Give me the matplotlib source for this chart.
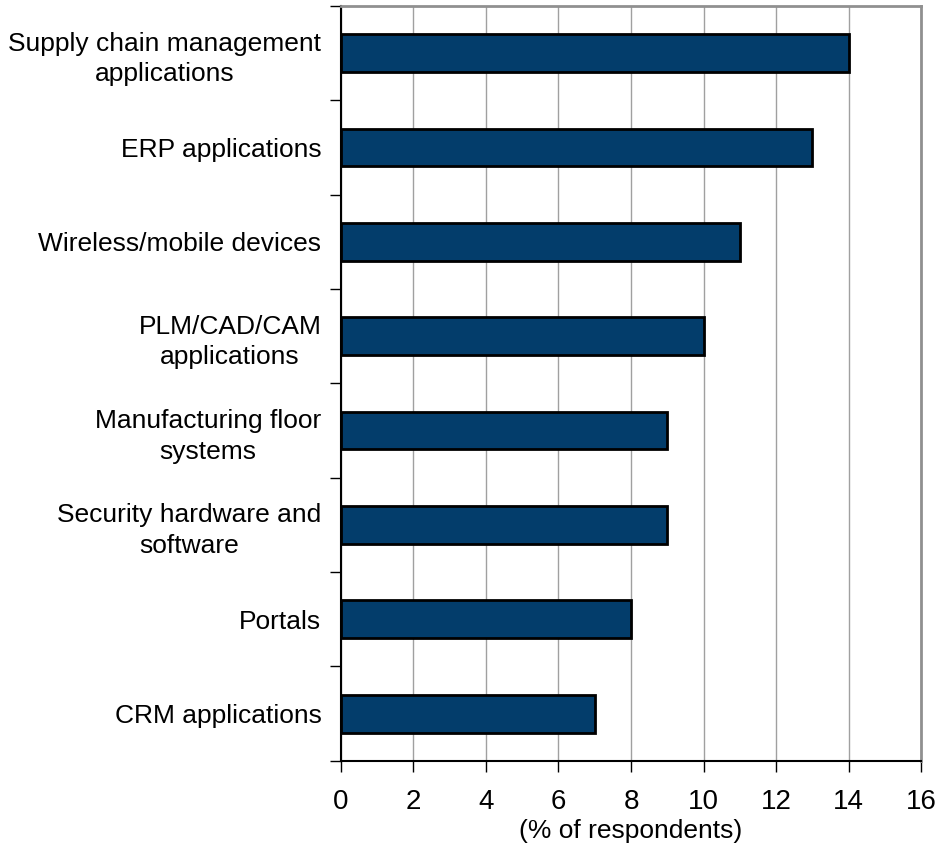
import numpy as np
from matplotlib import pyplot as plt

plt.rcParams['font.family'] = ['Liberation Sans', 'DejaVu Sans']

categories = ["Supply chain management\napplications", "ERP applications",
              "Wireless/mobile devices", "PLM/CAD/CAM\napplications",
              "Manufacturing floor\nsystems", "Security hardware and\nsoftware",
              "Portals", "CRM applications"]
values = [14, 13, 11, 10, 9, 9, 8, 7]
xticks = [0, 2, 4, 6, 8, 10, 12, 14, 16]

fig = plt.figure(figsize=(9.39, 8.52), dpi=100)
ax = fig.add_axes([0.363, 0.107, 0.618, 0.886])

n = len(categories)
pos = np.arange(n)[::-1]
ax.barh(pos, values, height=0.4, color="#033d6b", edgecolor="black", linewidth=2, zorder=3)

ax.set_xlim(0, 16)
ax.set_ylim(-0.5, n - 0.5)
ax.set_xticks(xticks)
ax.set_xticklabels([str(t) for t in xticks], fontsize=20)
ax.xaxis.grid(True, color="#a0a0a0", linewidth=1, zorder=0)

# category labels sit between the boundary ticks
ax.set_yticks(np.arange(-0.5, n, 1.0))
ax.set_yticklabels([])
ax.set_yticks(pos, minor=True)
ax.set_yticklabels(categories, minor=True, fontsize=19, ha="right",
                   multialignment="center", linespacing=1.35)
ax.tick_params(axis="y", which="minor", length=0, pad=14)
ax.tick_params(axis="y", which="major", length=8, width=1, direction="out")
ax.tick_params(axis="x", length=8, width=1, direction="out", pad=12)

ax.set_xlabel("(% of respondents)", fontsize=19, labelpad=3)

for s in ["top", "right"]:
    ax.spines[s].set_color("#909090")
    ax.spines[s].set_linewidth(2)
for s in ["left", "bottom"]:
    ax.spines[s].set_color("black")
    ax.spines[s].set_linewidth(1.5)

plt.savefig("out.png", dpi=100)
